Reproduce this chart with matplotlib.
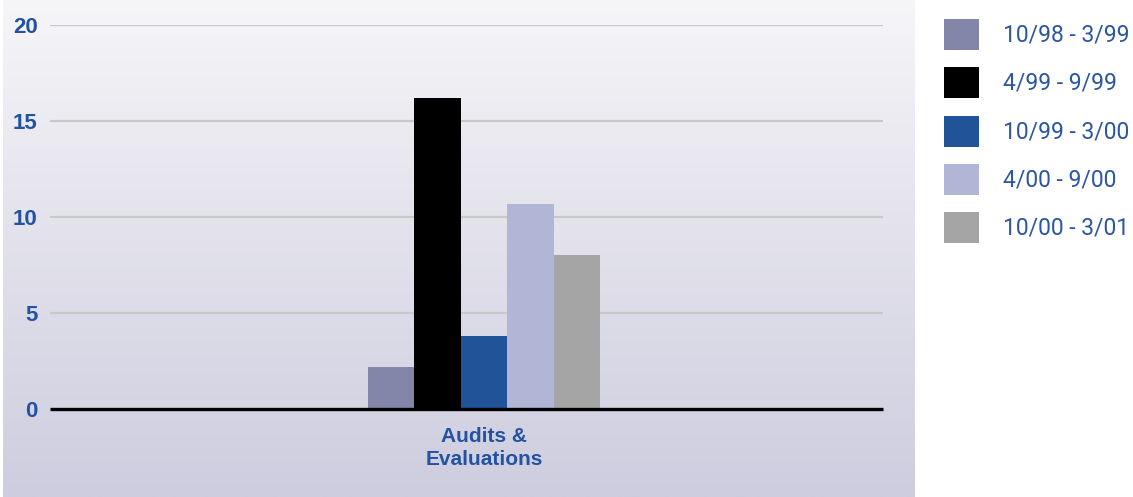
import numpy as np
import matplotlib.pyplot as plt
from matplotlib.colors import LinearSegmentedColormap
from matplotlib.patches import Rectangle

periods = ['10/98 - 3/99', '4/99 - 9/99', '10/99 - 3/00', '4/00 - 9/00', '10/00 - 3/01']
values = [2.2, 16.2, 3.8, 10.7, 8.0]
category = 'Audits &\nEvaluations'
colors = ['#8386a8', '#000000', '#215398', '#b1b5d6', '#a5a5a5']
yticks = [0, 5, 10, 15, 20]

blue = '#2352a0'
sans = ['Liberation Sans', 'DejaVu Sans']
W, H = 1133, 497

fig = plt.figure(figsize=(W / 100, H / 100), dpi=100)

# shaded panel behind the plot
bg = fig.add_axes([3 / W, 0, 912 / W, 1])
grad = np.linspace(0, 1, 256).reshape(-1, 1)
cmap = LinearSegmentedColormap.from_list('panel', ['#f6f5f8', '#cdcddf'])
bg.imshow(grad, aspect='auto', cmap=cmap, extent=[0, 1, 1, 0])
bg.set_axis_off()

ax = fig.add_axes([50 / W, 88 / H, 833 / W, 384 / H])
ax.set_facecolor('none')

x = np.arange(len(values)) - (len(values) - 1) / 2
bars = ax.bar(x, values, width=1.0, color=colors, zorder=3)

ax.set_xlim(-9.35, 8.6)
ax.set_ylim(0, 20)
ax.set_yticks(yticks)
ax.set_yticklabels([str(t) for t in yticks], family=sans, fontsize=16,
                   fontweight='bold', color=blue)
ax.tick_params(axis='y', length=0, pad=9)
ax.set_xticks([0])
ax.set_xticklabels([category], family=sans, fontsize=15, fontweight='bold',
                   color=blue, linespacing=1.25)
ax.tick_params(axis='x', length=0, pad=13)

for t in yticks[1:]:
    ax.axhline(t, color='#c8c8c8', lw=1.6, zorder=1)
ax.axhline(0, color='black', lw=2.4, zorder=4, clip_on=False, solid_capstyle='butt')

for s in ax.spines.values():
    s.set_visible(False)

# legend: colour squares with period labels to the right of the panel
for i, (lab, c) in enumerate(zip(periods, colors)):
    top = 19 + i * 48.25
    fig.add_artist(Rectangle((944 / W, 1 - (top + 31) / H), 35 / W, 31 / H,
                             transform=fig.transFigure, color=c, lw=0))
    fig.text(1003 / W, 1 - (top + 16) / H, lab, va='center', ha='left',
             family=['Roboto', 'Liberation Sans'], fontsize=16.5, color='#2b56a2')

fig.savefig('out.png', dpi=100)
